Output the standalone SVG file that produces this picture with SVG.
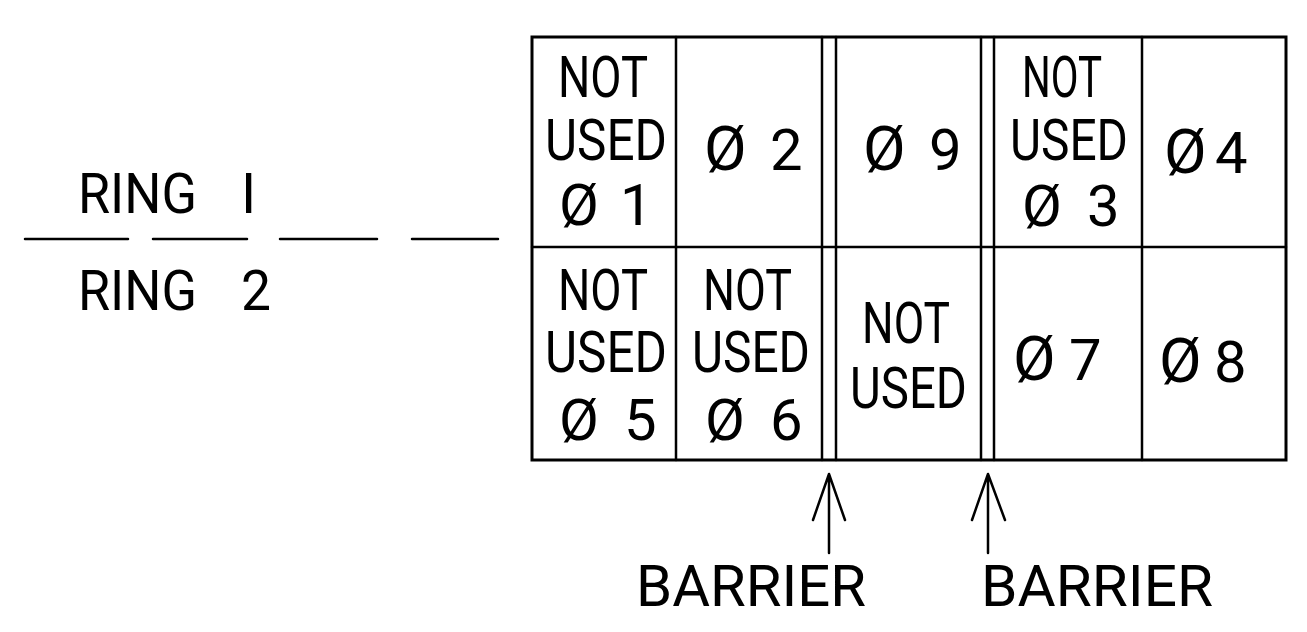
<svg xmlns="http://www.w3.org/2000/svg" width="1307" height="632" viewBox="0 0 1307 632">
<style>
.t{font-family:Roboto,"DejaVu Sans",sans-serif;font-weight:400;font-size:58px;fill:#000}
.l{font-size:56px}
.p{font-size:62px}
.ln{stroke:#000;stroke-width:2.5;fill:none;stroke-linecap:round;stroke-linejoin:round}
.box{stroke:#000;stroke-width:3;fill:#fff}
</style>
<rect width="1307" height="632" fill="#fff"/>
<g id="ring-labels">
<text class="t l" y="213"><tspan x="78" textLength="119" lengthAdjust="spacingAndGlyphs">RING</tspan><tspan x="241">I</tspan></text>
<text class="t l" y="310"><tspan x="78" textLength="119" lengthAdjust="spacingAndGlyphs">RING</tspan><tspan x="241" textLength="30" lengthAdjust="spacingAndGlyphs">2</tspan></text>
</g>
<g id="table">
<rect class="box" x="532" y="37" width="754" height="423"/>
<path class="ln" d="M532 247H1286M676 37V460M822 37V460M836 37V460M981 37V460M994 37V460M1142 37V460"/>
</g>
<g id="cell-r1c1">
<text class="t" x="558" y="97" textLength="90" lengthAdjust="spacingAndGlyphs">NOT</text>
<text class="t" x="545" y="160" textLength="122" lengthAdjust="spacingAndGlyphs">USED</text>
<text class="t" y="225"><tspan x="559">Ø</tspan><tspan x="620">1</tspan></text>
</g>
<g id="cell-r1c2"><text class="t" y="170"><tspan class="p" x="704">Ø</tspan><tspan x="770">2</tspan></text></g>
<g id="cell-r1c3"><text class="t" y="170"><tspan class="p" x="863">Ø</tspan><tspan x="929">9</tspan></text></g>
<g id="cell-r1c4">
<text class="t" x="1022" y="97" textLength="80" lengthAdjust="spacingAndGlyphs">NOT</text>
<text class="t" x="1010" y="160" textLength="118" lengthAdjust="spacingAndGlyphs">USED</text>
<text class="t" y="226"><tspan x="1022">Ø</tspan><tspan x="1087">3</tspan></text>
</g>
<g id="cell-r1c5"><text class="t" y="173"><tspan class="p" x="1164">Ø</tspan><tspan x="1215">4</tspan></text></g>
<g id="cell-r2c1">
<text class="t" x="558" y="310" textLength="90" lengthAdjust="spacingAndGlyphs">NOT</text>
<text class="t" x="545" y="372" textLength="122" lengthAdjust="spacingAndGlyphs">USED</text>
<text class="t" y="440"><tspan x="559">Ø</tspan><tspan x="624">5</tspan></text>
</g>
<g id="cell-r2c2">
<text class="t" x="703" y="310" textLength="89" lengthAdjust="spacingAndGlyphs">NOT</text>
<text class="t" x="692" y="372" textLength="118" lengthAdjust="spacingAndGlyphs">USED</text>
<text class="t" y="440"><tspan x="705">Ø</tspan><tspan x="770">6</tspan></text>
</g>
<g id="cell-r2c3">
<text class="t" x="862" y="343" textLength="88" lengthAdjust="spacingAndGlyphs">NOT</text>
<text class="t" x="850" y="408" textLength="117" lengthAdjust="spacingAndGlyphs">USED</text>
</g>
<g id="cell-r2c4"><text class="t" y="380"><tspan class="p" x="1013">Ø</tspan><tspan x="1069">7</tspan></text></g>
<g id="cell-r2c5"><text class="t" y="382"><tspan class="p" x="1159">Ø</tspan><tspan x="1214">8</tspan></text></g>
<g id="barrier-1"><text class="t" x="636" y="606" textLength="230" lengthAdjust="spacingAndGlyphs">BARRIER</text></g>
<g id="barrier-2"><text class="t" x="981" y="606" textLength="232" lengthAdjust="spacingAndGlyphs">BARRIER</text></g>
<g id="connectors">
<path class="ln" d="M25 239H128M153 239H247M280 239H377M412 239H498"/>
<path class="ln" d="M829 553V475M813 520L829 474L845 520"/>
<path class="ln" d="M988 553V475M972 520L988 474L1005 520"/>
</g>
</svg>
